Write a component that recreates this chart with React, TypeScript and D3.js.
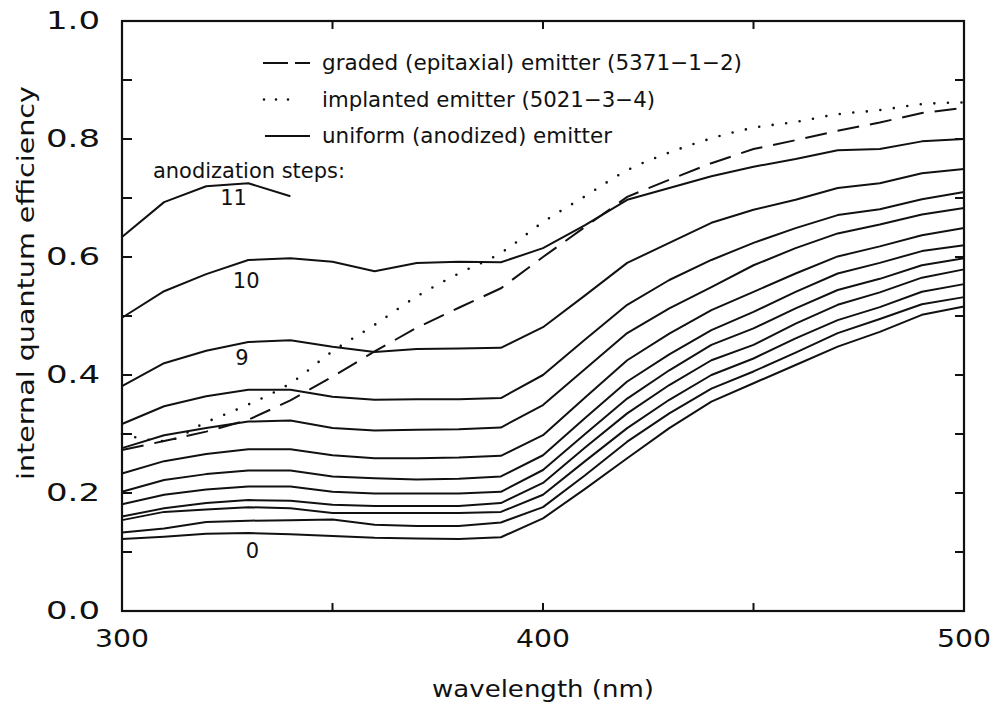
import React from "react";
import * as d3 from "d3";

// Wavelength grid (nm) shared by all measured curves
const wavelengths = [300, 310, 320, 330, 340, 350, 360, 370, 380, 390, 400, 410, 420, 430, 440, 450, 460, 470, 480, 490, 500];
const wavelengthsStep11 = [300, 310, 320, 330, 340];

// Uniform (anodized) emitter, one curve per anodization step
const step0 = [0.122, 0.126, 0.131, 0.132, 0.130, 0.127, 0.124, 0.123, 0.122, 0.125, 0.157, 0.207, 0.259, 0.310, 0.355, 0.386, 0.417, 0.448, 0.473, 0.502, 0.516];
const step1 = [0.133, 0.140, 0.151, 0.153, 0.154, 0.155, 0.146, 0.144, 0.144, 0.150, 0.176, 0.230, 0.287, 0.335, 0.377, 0.406, 0.438, 0.471, 0.495, 0.520, 0.532];
const step2 = [0.154, 0.168, 0.172, 0.176, 0.174, 0.166, 0.166, 0.166, 0.166, 0.168, 0.197, 0.254, 0.310, 0.358, 0.400, 0.428, 0.462, 0.493, 0.515, 0.541, 0.554];
const step3 = [0.160, 0.174, 0.183, 0.188, 0.187, 0.180, 0.178, 0.178, 0.178, 0.183, 0.217, 0.277, 0.335, 0.383, 0.425, 0.451, 0.487, 0.519, 0.540, 0.565, 0.579];
const step4 = [0.181, 0.197, 0.206, 0.211, 0.211, 0.202, 0.199, 0.199, 0.199, 0.202, 0.239, 0.300, 0.360, 0.408, 0.451, 0.479, 0.513, 0.544, 0.563, 0.586, 0.598];
const step5 = [0.202, 0.222, 0.232, 0.238, 0.238, 0.228, 0.225, 0.223, 0.224, 0.228, 0.264, 0.327, 0.389, 0.435, 0.476, 0.507, 0.541, 0.572, 0.590, 0.610, 0.620];
const step6 = [0.233, 0.254, 0.266, 0.274, 0.274, 0.264, 0.259, 0.259, 0.260, 0.263, 0.298, 0.362, 0.425, 0.470, 0.510, 0.541, 0.572, 0.601, 0.618, 0.637, 0.649];
const step7 = [0.276, 0.298, 0.310, 0.321, 0.323, 0.310, 0.306, 0.307, 0.308, 0.311, 0.349, 0.410, 0.471, 0.513, 0.549, 0.586, 0.615, 0.640, 0.655, 0.672, 0.683];
const step8 = [0.317, 0.347, 0.364, 0.375, 0.375, 0.363, 0.358, 0.359, 0.359, 0.361, 0.400, 0.460, 0.519, 0.561, 0.595, 0.624, 0.649, 0.671, 0.681, 0.698, 0.710];
const step9 = [0.381, 0.420, 0.441, 0.456, 0.459, 0.448, 0.439, 0.444, 0.445, 0.446, 0.481, 0.535, 0.590, 0.624, 0.658, 0.680, 0.697, 0.717, 0.725, 0.742, 0.749];
const step10 = [0.497, 0.542, 0.571, 0.595, 0.598, 0.592, 0.576, 0.590, 0.592, 0.591, 0.615, 0.654, 0.697, 0.717, 0.737, 0.753, 0.766, 0.781, 0.783, 0.796, 0.800];
const step11 = [0.634, 0.693, 0.720, 0.725, 0.703];

// Graded (epitaxial) emitter and implanted emitter
const graded = [0.273, 0.288, 0.304, 0.324, 0.357, 0.397, 0.440, 0.480, 0.514, 0.547, 0.600, 0.651, 0.702, 0.731, 0.759, 0.783, 0.798, 0.814, 0.828, 0.844, 0.853];
const implanted = [0.300, 0.288, 0.320, 0.350, 0.386, 0.440, 0.485, 0.533, 0.572, 0.607, 0.659, 0.703, 0.747, 0.777, 0.801, 0.819, 0.829, 0.842, 0.849, 0.859, 0.862];

const uniformSteps = [step0, step1, step2, step3, step4, step5, step6, step7, step8, step9, step10];

// Axis ticks
const yTickLabels = [0.0, 0.2, 0.4, 0.6, 0.8, 1.0];
const yMinorTicks = [0.1, 0.3, 0.5, 0.7, 0.9];
const xTickLabels = [300, 400, 500];
const xMinorTicks = [350, 450];

// Curve labels: [text, wavelength, efficiency]
const stepLabels: [string, number, number][] = [
  ["11", 326.5, 0.700],
  ["10", 329.5, 0.560],
  ["9", 328.5, 0.429],
  ["0", 331, 0.102],
];

const legendItems = [
  { text: "graded (epitaxial) emitter (5371\u22121\u22122)", style: "dash", width: 420 },
  { text: "implanted emitter (5021\u22123\u22124)", style: "dot", width: 333 },
  { text: "uniform (anodized) emitter", style: "solid", width: 290 },
];

const W = 995;
const H = 707;
const left = 122;
const right = 964;
const top = 21;
const bottom = 611;

const FONT = "'DejaVu Sans', sans-serif";

export default function App() {
  const x = d3.scaleLinear().domain([300, 500]).range([left, right]);
  const y = d3.scaleLinear().domain([0, 1]).range([bottom, top]);

  const lineFor = (xs: number[]) =>
    d3
      .line<number>()
      .x((_, i) => x(xs[i]))
      .y((v) => y(v));

  const linear = lineFor(wavelengths);
  const smooth = lineFor(wavelengths).curve(d3.curveMonotoneX);
  const short = lineFor(wavelengthsStep11);

  const stroke = "#111";

  return (
    <svg
      width={W}
      height={H}
      viewBox={`0 0 ${W} ${H}`}
      style={{ position: "absolute", left: 0, top: 0, background: "#fff" }}
    >
      <rect x={0} y={0} width={W} height={H} fill="#fff" />

      {/* uniform emitter curves */}
      <g fill="none" stroke={stroke} strokeWidth={2} strokeLinejoin="round">
        {uniformSteps.map((s, i) => (
          <path key={i} d={linear(s) || ""} />
        ))}
        <path d={short(step11) || ""} />
      </g>

      {/* graded emitter (dashed) */}
      <path d={linear(graded) || ""} fill="none" stroke={stroke} strokeWidth={2} strokeDasharray="22 11" />

      {/* implanted emitter (dotted) */}
      <path
        d={smooth(implanted) || ""}
        fill="none"
        stroke={stroke}
        strokeWidth={2.6}
        strokeLinecap="round"
        strokeDasharray="0 13.6"
      />

      {/* frame */}
      <rect x={left} y={top} width={right - left} height={bottom - top} fill="none" stroke={stroke} strokeWidth={2.2} />

      {/* ticks on all four sides, pointing inward */}
      <g stroke={stroke} strokeWidth={2}>
        {[...yTickLabels, ...yMinorTicks].map((v) => (
          <g key={`yt${v}`}>
            <line x1={left} x2={left + 10} y1={y(v)} y2={y(v)} />
            <line x1={right} x2={right - 9} y1={y(v)} y2={y(v)} />
          </g>
        ))}
        {[...xTickLabels, ...xMinorTicks].map((v) => (
          <g key={`xt${v}`}>
            <line x1={x(v)} x2={x(v)} y1={bottom} y2={bottom - 8} />
            <line x1={x(v)} x2={x(v)} y1={top} y2={top + 8} />
          </g>
        ))}
      </g>

      {/* tick labels */}
      <g fontFamily={FONT} fontSize={24} fill={stroke}>
        {yTickLabels.map((v) => (
          <text
            key={`yl${v}`}
            x={left - 22}
            y={y(v)}
            textAnchor="end"
            dominantBaseline="central"
            textLength={54}
            lengthAdjust="spacingAndGlyphs"
          >
            {v.toFixed(1)}
          </text>
        ))}
        {xTickLabels.map((v) => (
          <text
            key={`xl${v}`}
            x={x(v)}
            y={bottom + 36}
            textAnchor="middle"
            textLength={54}
            lengthAdjust="spacingAndGlyphs"
          >
            {v}
          </text>
        ))}
      </g>

      {/* axis titles */}
      <text
        x={543}
        y={697}
        fontFamily={FONT}
        fontSize={23}
        textAnchor="middle"
        fill={stroke}
        textLength={222}
        lengthAdjust="spacingAndGlyphs"
      >
        wavelength (nm)
      </text>
      <text
        transform="translate(34,283) rotate(-90)"
        fontFamily={FONT}
        fontSize={23}
        textAnchor="middle"
        fill={stroke}
        textLength={394}
        lengthAdjust="spacingAndGlyphs"
      >
        internal quantum efficiency
      </text>

      {/* legend */}
      <g fontFamily={FONT} fontSize={21} fill={stroke}>
        {legendItems.map((item, i) => {
          const cy = 63 + i * 36.5;
          return (
            <g key={item.text}>
              {item.style === "dash" && (
                <line x1={263} x2={310} y1={cy} y2={cy} stroke={stroke} strokeWidth={2} strokeDasharray="25 7" />
              )}
              {item.style === "dot" && (
                <line
                  x1={264}
                  x2={300}
                  y1={cy}
                  y2={cy}
                  stroke={stroke}
                  strokeWidth={2.6}
                  strokeLinecap="round"
                  strokeDasharray="0 12"
                />
              )}
              {item.style === "solid" && <line x1={265} x2={310} y1={cy} y2={cy} stroke={stroke} strokeWidth={2} />}
              <text
                x={322}
                y={cy}
                dominantBaseline="central"
                textLength={item.width}
                lengthAdjust="spacingAndGlyphs"
              >
                {item.text}
              </text>
            </g>
          );
        })}
        <text x={153} y={178} textLength={192} lengthAdjust="spacingAndGlyphs">
          anodization steps:
        </text>
      </g>

      {/* step labels */}
      <g fontFamily={FONT} fontSize={21} fill={stroke} textAnchor="middle">
        {stepLabels.map(([t, wl, v]) => (
          <text key={t} x={x(wl)} y={y(v)} dominantBaseline="central">
            {t}
          </text>
        ))}
      </g>
    </svg>
  );
}
